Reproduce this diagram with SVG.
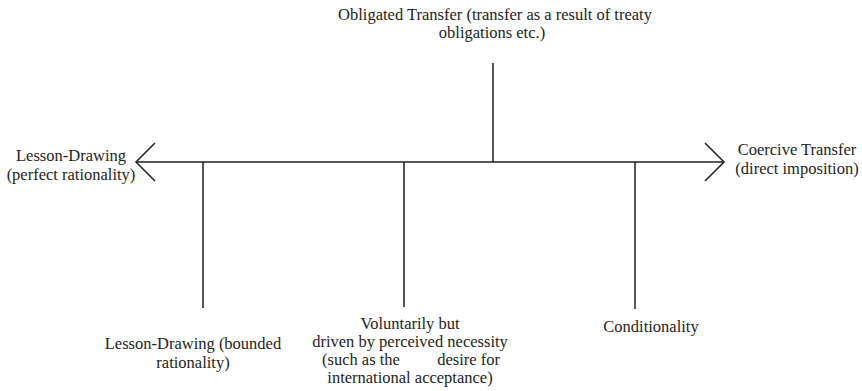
<svg xmlns="http://www.w3.org/2000/svg" width="862" height="391" viewBox="0 0 862 391">
<style>
text{font-family:'Liberation Serif','DejaVu Serif',serif;font-size:16.5px;fill:#1e1e1e;text-anchor:middle}
.c{stroke:#1e1e1e;stroke-width:1.5;fill:none}
</style>
<defs>
<marker id="chev" viewBox="0 0 22 42" markerWidth="22" markerHeight="42" refX="20" refY="21" orient="auto-start-reverse" markerUnits="userSpaceOnUse">
<path d="M1,2 L20,21 L1,40" fill="none" stroke="#1e1e1e" stroke-width="1.5"/>
</marker>
</defs>
<rect width="862" height="391" fill="#ffffff"/>
<g id="connectors">
<line class="c" x1="136" y1="162" x2="724" y2="162" marker-start="url(#chev)" marker-end="url(#chev)"/>
<line class="c" x1="493" y1="63" x2="493" y2="162"/>
<line class="c" x1="203" y1="162" x2="203" y2="308"/>
<line class="c" x1="404" y1="162" x2="404" y2="307"/>
<line class="c" x1="635" y1="162" x2="635" y2="309"/>
</g>
<g font-family="'Liberation Serif','DejaVu Serif',serif">
<g id="lesson-drawing-perfect">
<text x="71" y="161">Lesson-Drawing</text>
<text x="71" y="180">(perfect rationality)</text>
</g>
<g id="coercive-transfer">
<text x="797" y="155">Coercive Transfer</text>
<text x="797" y="174">(direct imposition)</text>
</g>
<g id="obligated-transfer">
<text x="495" y="20">Obligated Transfer (transfer as a result of treaty</text>
<text x="492" y="38">obligations etc.)</text>
</g>
<g id="lesson-drawing-bounded">
<text x="193" y="349">Lesson-Drawing (bounded</text>
<text x="193" y="368">rationality)</text>
</g>
<g id="voluntarily">
<text x="410" y="329">Voluntarily but</text>
<text x="410" y="347">driven by perceived necessity</text>
<text y="365"><tspan x="322" style="text-anchor:start">(such as the</tspan><tspan x="500" style="text-anchor:end">desire for</tspan></text>
<text x="410" y="383">international acceptance)</text>
</g>
<g id="conditionality">
<text x="651" y="332">Conditionality</text>
</g>
</g>
</svg>
